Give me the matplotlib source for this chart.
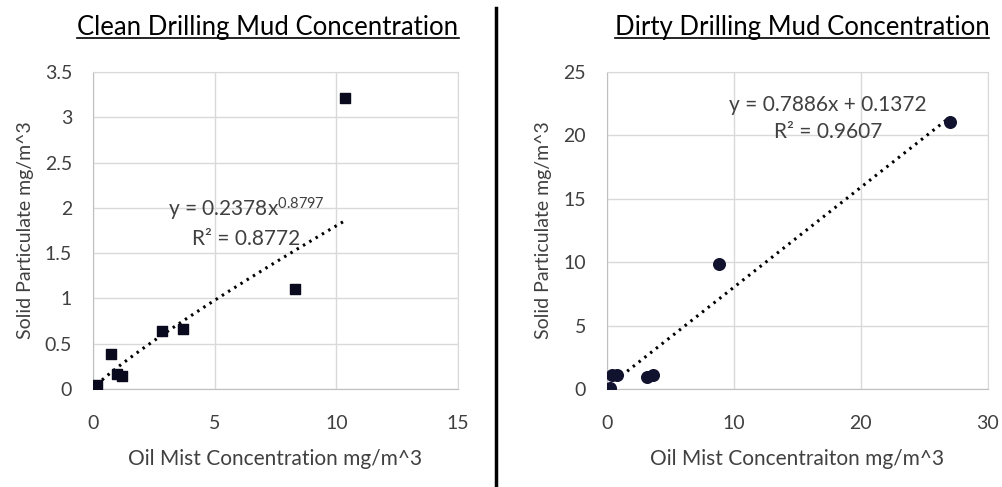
import numpy as np
import matplotlib
matplotlib.use("Agg")
import matplotlib.pyplot as plt
from matplotlib.lines import Line2D

plt.rcParams["font.family"] = ["Lato", "DejaVu Sans"]
plt.rcParams["mathtext.fontset"] = "custom"
plt.rcParams["mathtext.rm"] = "Lato"
plt.rcParams["mathtext.it"] = "Lato"

# clean drilling mud
clean_oil = [0.15, 0.74, 0.97, 1.18, 2.85, 3.70, 8.29, 10.34]
clean_solid = [0.04, 0.39, 0.17, 0.14, 0.64, 0.66, 1.10, 3.21]
clean_coef = 0.2378
clean_exp = 0.8797
clean_r2 = 0.8772

# dirty drilling mud
dirty_oil = [0.24, 0.37, 0.79, 3.13, 3.62, 8.82, 26.98]
dirty_solid = [0.10, 1.10, 1.10, 0.95, 1.10, 9.86, 21.03]
dirty_slope = 0.7886
dirty_icept = 0.1372
dirty_r2 = 0.9607

TEXT = "#404040"
GRID = "#d9d9d9"


def style_axes(ax, xlim, ylim, xticks, yticks):
    ax.set_xlim(*xlim)
    ax.set_ylim(*ylim)
    ax.set_xticks(xticks)
    ax.set_yticks(yticks)
    ax.grid(True, color=GRID, linewidth=1)
    ax.set_axisbelow(True)
    for s in ax.spines.values():
        s.set_color(GRID)
    ax.spines["left"].set_color("#bfbfbf")
    ax.spines["bottom"].set_color("#bfbfbf")
    ax.tick_params(length=0, labelsize=14, colors=TEXT)
    ax.tick_params(axis="x", pad=19)
    ax.tick_params(axis="y", pad=15)


def underlined_title(fig, x, y, s):
    t = fig.text(x, y, s, ha="center", va="center", fontsize=18.5, color="black")
    fig.canvas.draw()
    bb = t.get_window_extent().transformed(fig.transFigure.inverted())
    fig.add_artist(Line2D([bb.x0, bb.x1], [bb.y0 + 0.004, bb.y0 + 0.004],
                          color="black", linewidth=1.2))


fig = plt.figure(figsize=(10.03, 4.87), dpi=100)

ax1 = fig.add_axes([0.0927, 0.2012, 0.364, 0.651])
style_axes(ax1, (0, 15), (0, 3.5), [0, 5, 10, 15], [0, 0.5, 1, 1.5, 2, 2.5, 3, 3.5])
ax1.set_yticklabels(["0", "0.5", "1", "1.5", "2", "2.5", "3", "3.5"])
ax1.scatter(clean_oil, clean_solid, marker="s", s=60, color="#0a0a1e", zorder=3)
xf = np.linspace(min(clean_oil), max(clean_oil), 200)
ax1.plot(xf, clean_coef * xf ** clean_exp, color="black", linewidth=2.2,
         linestyle=(0, (0.8, 1.6)), zorder=2)
ax1.text(6.3, 1.98, f"y = {clean_coef}x$^{{{clean_exp}}}$", ha="center", va="center",
         fontsize=15, color=TEXT)
ax1.text(6.3, 1.66, f"R² = {clean_r2}", ha="center", va="center", fontsize=15, color=TEXT)
ax1.set_xlabel("Oil Mist Concentration mg/m^3", fontsize=15, color=TEXT, labelpad=12)
ax1.set_ylabel("Solid Particulate mg/m^3", fontsize=14, color=TEXT, labelpad=8)

ax2 = fig.add_axes([0.605, 0.2012, 0.380, 0.651])
style_axes(ax2, (0, 30), (0, 25), [0, 10, 20, 30], [0, 5, 10, 15, 20, 25])
ax2.scatter(dirty_oil, dirty_solid, marker="o", s=70, color="#10122e", zorder=3)
xf = np.linspace(min(dirty_oil), max(dirty_oil), 200)
ax2.plot(xf, dirty_slope * xf + dirty_icept, color="black", linewidth=2.2,
         linestyle=(0, (0.8, 1.6)), zorder=2)
ax2.text(17.4, 22.4, f"y = {dirty_slope}x + {dirty_icept}", ha="center", va="center",
         fontsize=15, color=TEXT)
ax2.text(17.4, 20.3, f"R² = {dirty_r2}", ha="center", va="center", fontsize=15, color=TEXT)
ax2.set_xlabel("Oil Mist Concentraiton mg/m^3", fontsize=15, color=TEXT, labelpad=12)
ax2.set_ylabel("Solid Particulate mg/m^3", fontsize=14, color=TEXT, labelpad=8)

underlined_title(fig, 268 / 1003, 1 - 27 / 487, "Clean Drilling Mud Concentration")
underlined_title(fig, 802 / 1003, 1 - 27 / 487, "Dirty Drilling Mud Concentration")

fig.add_artist(Line2D([496 / 1003, 496 / 1003], [0, 1 - 8 / 487], color="black", linewidth=2.5))

fig.savefig("out.png", dpi=100)
